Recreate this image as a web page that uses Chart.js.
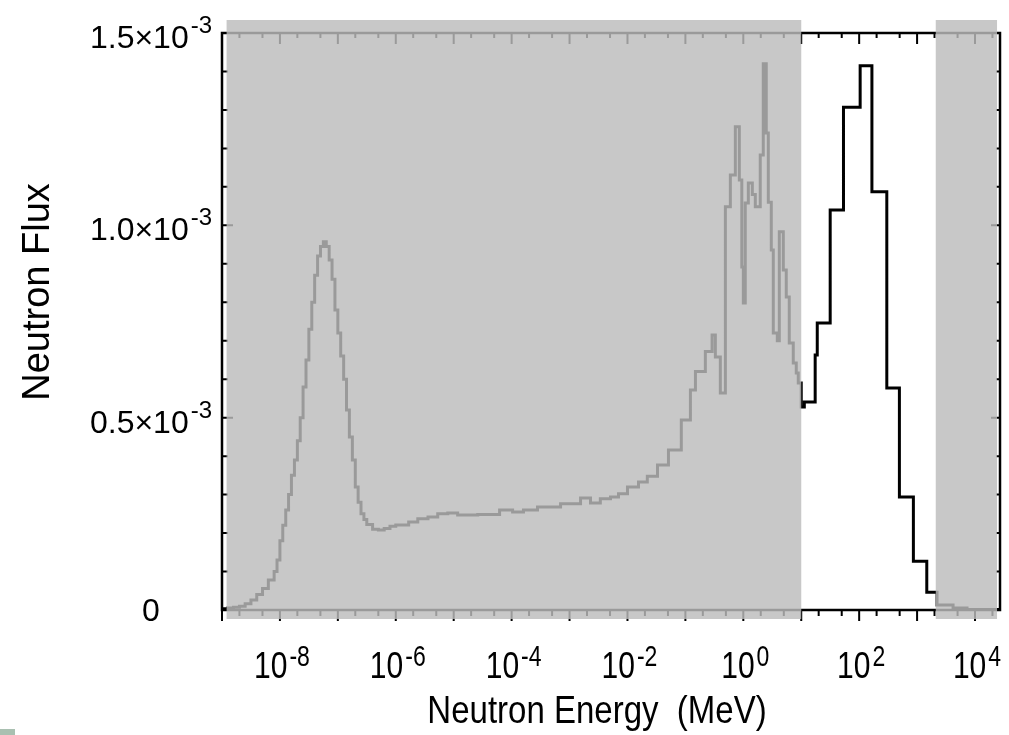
<!DOCTYPE html>
<html>
<head>
<meta charset="utf-8">
<script src="https://cdn.jsdelivr.net/npm/chart.js@4"></script>
<style>
  html, body { margin: 0; padding: 0; background: #fff; }
  #wrap { position: relative; width: 1009px; height: 735px; }
  #mark { position: absolute; left: 0; top: 729px; width: 15px; height: 6px; background: #a9c0b1; }
</style>
</head>
<body>
<div id="wrap">
  <canvas id="fluxChart" width="1009" height="735"></canvas>
  <div id="mark"></div>
</div>
<script>
// histogram bins: left edge of each bin (MeV) and flux in that bin (units of 1e-3)
const energy = [
  1.00e-9, 1.26e-9, 1.58e-9, 2.00e-9, 2.51e-9, 3.16e-9, 3.98e-9, 5.01e-9, 6.31e-9, 7.94e-9,
  8.91e-9, 1.00e-8, 1.12e-8, 1.26e-8, 1.41e-8, 1.58e-8, 1.78e-8, 2.00e-8, 2.24e-8, 2.51e-8,
  2.82e-8, 3.16e-8, 3.55e-8, 3.98e-8, 4.47e-8, 5.01e-8, 5.62e-8, 6.31e-8, 7.08e-8, 7.94e-8,
  8.91e-8, 1.00e-7, 1.12e-7, 1.26e-7, 1.41e-7, 1.58e-7, 1.78e-7, 2.00e-7, 2.24e-7, 2.51e-7,
  2.82e-7, 3.16e-7, 3.98e-7, 5.01e-7, 6.31e-7, 7.94e-7,
  1.0e-6, 1.67e-6, 2.4e-6, 3.6e-6, 5.3e-6, 7.9e-6, 1.17e-5, 2.6e-5, 6.2e-5, 1.04e-4,
  1.6e-4, 2.8e-4, 7.0e-4, 1.55e-3, 2.3e-3, 3.4e-3, 5.1e-3, 7.0e-3, 1.0e-2, 1.55e-2,
  2.2e-2, 3.3e-2, 5.1e-2, 8.5e-2, 0.122, 0.149, 0.221, 0.289, 0.329, 0.401,
  0.490, 0.597, 0.728, 0.853, 0.942, 1.00, 1.08, 1.22, 1.43, 1.61,
  1.96, 2.21, 2.49, 2.70, 3.04, 3.29, 3.86, 4.18, 4.90, 5.51,
  6.21, 7.28, 8.20, 8.88, 10.0, 11.3, 17.4, 18.9, 31.6, 53.6,
  104, 166, 300, 495, 863, 1470, 2210, 4180, 7280, 2.7e4
];
const flux = [
  0.003, 0.005, 0.007, 0.010, 0.016, 0.026, 0.040, 0.056, 0.078, 0.10,
  0.13, 0.18, 0.22, 0.26, 0.30, 0.35, 0.39, 0.44, 0.50, 0.58,
  0.65, 0.73, 0.80, 0.87, 0.92, 0.945, 0.957, 0.945, 0.91, 0.86,
  0.78, 0.72, 0.66, 0.60, 0.52, 0.45, 0.39, 0.32, 0.28, 0.25,
  0.235, 0.222, 0.21, 0.208, 0.212, 0.218,
  0.221, 0.229, 0.237, 0.242, 0.250, 0.252, 0.247, 0.248, 0.260, 0.255,
  0.260, 0.268, 0.276, 0.291, 0.278, 0.289, 0.294, 0.302, 0.320, 0.333,
  0.348, 0.377, 0.416, 0.494, 0.572, 0.620, 0.672, 0.715, 0.658, 0.564,
  1.048, 1.131, 1.256, 1.118, 0.892, 0.798, 1.058, 1.11, 1.08, 1.048,
  1.183, 1.42, 1.24, 1.06, 0.936, 0.72, 0.70, 0.983, 0.884, 0.814,
  0.694, 0.642, 0.616, 0.59, 0.528, 0.541, 0.663, 0.746, 1.04, 1.307,
  1.415, 1.087, 0.577, 0.294, 0.127, 0.046, 0.013, 0.005, 0.001, 0.001
];

// energy ranges greyed out on the figure
const shadedFrom = [1.2e-9, 2.1e3];
const shadedTo = [10, 2.4e4];

const xTickValues = [1e-8, 1e-6, 1e-4, 1e-2, 1, 1e2, 1e4];
const xTickExp = ['-8', '-6', '-4', '-2', '0', '2', '4'];
const yTickValues = [0, 0.5e-3, 1.0e-3, 1.5e-3];
const yTickBase = ['0', '0.5\u00d710', '1.0\u00d710', '1.5\u00d710'];
const yTickExp = ['', '-3', '-3', '-3'];

const xTitle = 'Neutron Energy  (MeV)';
const yTitle = 'Neutron Flux';

const FONT = '"Liberation Sans", Arial, sans-serif';

// "base" with a raised exponent, centred on cx; sy stretches the glyphs vertically
function drawPower(ctx, base, exp, cx, baseline, opt) {
  ctx.font = opt.size + 'px ' + FONT;
  const wb = ctx.measureText(base).width;
  ctx.font = opt.expSize + 'px ' + FONT;
  const we = exp ? ctx.measureText(exp).width + 2 : 0;
  const start = cx - (wb + we) / 2;
  ctx.textAlign = 'left';
  ctx.textBaseline = 'alphabetic';

  ctx.save();
  ctx.translate(start, baseline);
  ctx.scale(1, opt.sy);
  ctx.font = opt.size + 'px ' + FONT;
  ctx.fillText(base, 0, 0);
  ctx.restore();

  if (exp) {
    ctx.save();
    ctx.translate(start + wb + 2, baseline - opt.raise);
    ctx.scale(1, opt.sy);
    ctx.font = opt.expSize + 'px ' + FONT;
    ctx.fillText(exp, 0, 0);
    ctx.restore();
  }
}

const framePlugin = {
  id: 'frame',
  beforeDatasetsDraw(chart) {
    const {ctx, chartArea: a, scales: {x, y}} = chart;
    ctx.save();
    ctx.strokeStyle = '#000';
    ctx.lineWidth = 2.5;
    ctx.strokeRect(a.left, a.top, a.right - a.left, a.bottom - a.top);

    ctx.lineWidth = 2;
    ctx.beginPath();
    for (let i = 0; i <= 15; i++) {
      const py = y.getPixelForValue(i * 1e-4);
      const major = i % 5 === 0;
      ctx.moveTo(a.left, py); ctx.lineTo(a.left + (major ? 11 : 6), py);
      ctx.moveTo(a.right, py); ctx.lineTo(a.right - (major ? 9 : 4), py);
    }
    for (let d = -9; d <= 4; d++) {
      [1, 2, 5].forEach(m => {
        const v = m * Math.pow(10, d);
        if (v < x.min || v > x.max) return;
        const px = x.getPixelForValue(v);
        const major = m === 1;
        ctx.moveTo(px, a.bottom); ctx.lineTo(px, a.bottom + (major ? 11 : 6));
        ctx.moveTo(px, a.top); ctx.lineTo(px, a.top + (major ? 11 : 5));
      });
    }
    ctx.stroke();
    ctx.restore();
  },
  afterDatasetsDraw(chart) {
    const {ctx, chartArea: a, scales: {x, y}} = chart;
    ctx.save();

    // grey overlay boxes
    ctx.fillStyle = 'rgba(188,188,188,0.82)';
    shadedFrom.forEach((from, i) => {
      const x0 = x.getPixelForValue(from);
      const x1 = x.getPixelForValue(shadedTo[i]);
      ctx.fillRect(x0, a.top - 13, x1 - x0, a.bottom - a.top + 22);
    });

    // tick labels
    ctx.fillStyle = '#000';
    const xOpt = { size: 30, expSize: 23, raise: 12, sy: 1.25 };
    xTickValues.forEach((v, i) => {
      drawPower(ctx, '10', xTickExp[i], x.getPixelForValue(v) + 2, 678, xOpt);
    });
    const yOpt = { size: 32, expSize: 24, raise: 15, sy: 1 };
    yTickValues.forEach((v, i) => {
      const py = y.getPixelForValue(v);
      drawPower(ctx, yTickBase[i], yTickExp[i], 151, py + (yTickExp[i] ? 15 : 11), yOpt);
    });

    // axis titles
    ctx.textAlign = 'center';
    ctx.textBaseline = 'alphabetic';
    ctx.save();
    ctx.translate(597, 723);
    ctx.scale(1, 1.2);
    ctx.font = '33px ' + FONT;
    ctx.fillText(xTitle, 0, 0);
    ctx.restore();

    ctx.font = '38px ' + FONT;
    ctx.translate(49, 292);
    ctx.rotate(-Math.PI / 2);
    ctx.fillText(yTitle, 0, 0);
    ctx.restore();
  }
};

const ctx = document.getElementById('fluxChart').getContext('2d');
new Chart(ctx, {
  type: 'line',
  data: {
    datasets: [{
      label: 'Neutron Flux',
      data: energy.map((e, i) => ({ x: e, y: flux[i] * 1e-3 })),
      borderColor: '#000',
      borderWidth: 3,
      pointRadius: 0,
      stepped: true,
      fill: false
    }]
  },
  options: {
    responsive: false,
    animation: false,
    devicePixelRatio: 1,
    layout: { padding: { left: 222, right: 9, top: 33, bottom: 125 } },
    plugins: { legend: { display: false }, tooltip: { enabled: false } },
    scales: {
      x: { type: 'logarithmic', min: 1e-9, max: 2.7e4, display: false },
      y: { type: 'linear', min: 0, max: 1.5e-3, display: false }
    }
  },
  plugins: [framePlugin]
});
</script>
</body>
</html>
